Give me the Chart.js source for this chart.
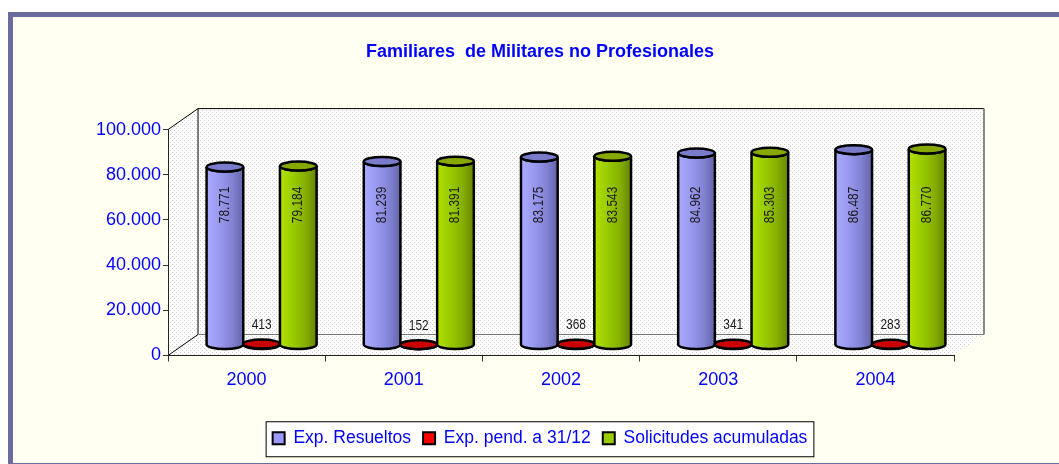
<!DOCTYPE html>
<html>
<head>
<meta charset="utf-8">
<script src="https://cdn.jsdelivr.net/npm/chart.js@4.4.1/dist/chart.umd.min.js"></script>
<style>
  html, body { margin: 0; padding: 0; overflow: hidden; background: #fff; }
  canvas { display: block; }
</style>
</head>
<body>
<canvas id="militaresChart" width="1080" height="464"></canvas>
<script>
var years = ['2000', '2001', '2002', '2003', '2004'];
var resueltos = [78771, 81239, 83175, 84962, 86487];
var pendientes = [413, 152, 368, 341, 283];
var acumuladas = [79184, 81391, 83543, 85303, 86770];
var yTicks = [0, 20000, 40000, 60000, 80000, 100000];

var FONT = 'Liberation Sans, Arial, sans-serif';
var depthX = 30, depthY = -21;   // 3D offset of the back wall
var midX = 15, midY = -10.5;     // cylinders sit half way back

// body gradient stops + top colour for each series
var shades = [
  { stops: ['#aaaaff', '#9999f0', '#8282d4', '#6464a8'], top: '#7b7bcc' },
  { stops: ['#e00000', '#cc0000', '#b00000', '#900000'], top: '#cc0000' },
  { stops: ['#b2e000', '#99cc00', '#86ae00', '#658600'], top: '#86a800' }
];

function fmt(v) {
  return Number(v).toLocaleString('de-DE');
}

function dotPattern(ctx, dot) {
  var c = document.createElement('canvas');
  c.width = 4; c.height = 4;
  var g = c.getContext('2d');
  g.fillStyle = '#ffffff';
  g.fillRect(0, 0, 4, 4);
  g.fillStyle = dot;
  g.fillRect(0, 0, 1, 1);
  g.fillRect(2, 2, 1, 1);
  return ctx.createPattern(c, 'repeat');
}

function poly(ctx, pts) {
  ctx.beginPath();
  ctx.moveTo(pts[0][0], pts[0][1]);
  for (var i = 1; i < pts.length; i++) ctx.lineTo(pts[i][0], pts[i][1]);
  ctx.closePath();
}

function line(ctx, x1, y1, x2, y2, color, w) {
  ctx.beginPath();
  ctx.strokeStyle = color;
  ctx.lineWidth = w;
  ctx.moveTo(x1, y1);
  ctx.lineTo(x2, y2);
  ctx.stroke();
}

function drawCylinder(ctx, bar, shade) {
  var p = bar.getProps(['x', 'y', 'base', 'width'], true);
  var cx = p.x + midX, top = p.y + midY, bottom = p.base + midY;
  var rx = p.width / 2, ry = 4.5;
  var grad = ctx.createLinearGradient(cx - rx, 0, cx + rx, 0);
  grad.addColorStop(0, shade.stops[0]);
  grad.addColorStop(0.35, shade.stops[1]);
  grad.addColorStop(0.7, shade.stops[2]);
  grad.addColorStop(1, shade.stops[3]);

  ctx.beginPath();
  ctx.moveTo(cx - rx, top);
  ctx.lineTo(cx - rx, bottom);
  ctx.ellipse(cx, bottom, rx, ry, 0, Math.PI, 0, true);
  ctx.lineTo(cx + rx, top);
  ctx.ellipse(cx, top, rx, ry, 0, 0, Math.PI, false);
  ctx.closePath();
  ctx.fillStyle = grad;
  ctx.fill();
  ctx.strokeStyle = '#000';
  ctx.lineWidth = 2.5;
  ctx.stroke();

  ctx.beginPath();
  ctx.ellipse(cx, top, rx, ry, 0, 0, Math.PI * 2);
  ctx.fillStyle = shade.top;
  ctx.fill();
  ctx.stroke();
}

var scene3d = {
  id: 'scene3d',
  beforeDraw: function (chart) {
    var ctx = chart.ctx, xs = chart.scales.x, ys = chart.scales.y;
    ctx.save();
    // outer frame
    ctx.fillStyle = '#ffffff';
    ctx.fillRect(0, 0, chart.width, chart.height);
    ctx.fillStyle = '#6b6b9d';
    ctx.fillRect(8, 12, chart.width - 16, chart.height);
    ctx.fillStyle = '#fffff2';
    ctx.fillRect(13, 17, chart.width - 26, 446);

    // walls and floor
    var L = xs.left, R = xs.right;
    var B = ys.getPixelForValue(ys.min), T = ys.getPixelForValue(ys.max);
    var pat = dotPattern(ctx, '#d0d0d0');
    ctx.fillStyle = pat;
    ctx.fillRect(L + depthX, T + depthY, R - L, B - T);
    poly(ctx, [[L, T], [L + depthX, T + depthY], [L + depthX, B + depthY], [L, B]]);
    ctx.fill();
    poly(ctx, [[L, B], [R, B], [R + depthX, B + depthY], [L + depthX, B + depthY]]);
    ctx.fill();

    line(ctx, L, T, L + depthX, T + depthY, '#000', 1);
    line(ctx, L + depthX, T + depthY, R + depthX, T + depthY, '#000', 1);
    line(ctx, L + depthX, T + depthY, L + depthX, B + depthY, '#000', 1);
    line(ctx, R + depthX, T + depthY, R + depthX, B + depthY, '#8a8a8a', 2);
    line(ctx, L + depthX, B + depthY, R + depthX, B + depthY, '#777', 1);
    line(ctx, L, B, L + depthX, B + depthY, '#000', 1);

    // legend frame
    var hb = chart.legend.legendHitBoxes;
    if (hb && hb.length) {
      var first = hb[0], last = hb[hb.length - 1];
      var fx = first.left - 7, fy = first.top + first.height / 2 - 17;
      var fw = last.left + last.width + 6 - fx;
      ctx.fillStyle = '#ffffff';
      ctx.fillRect(fx, fy, fw, 35);
      ctx.strokeStyle = '#000';
      ctx.lineWidth = 1;
      ctx.strokeRect(fx + 0.5, fy + 0.5, fw, 35);
    }
    ctx.restore();
  },
  beforeDatasetsDraw: function (chart) {
    var ctx = chart.ctx;
    ctx.save();
    for (var j = 0; j < years.length; j++) {
      chart.data.datasets.forEach(function (ds, i) {
        drawCylinder(ctx, chart.getDatasetMeta(i).data[j], shades[i]);
      });
    }
    ctx.restore();
    return false;
  },
  afterDraw: function (chart) {
    var ctx = chart.ctx, ys = chart.scales.y;
    ctx.save();
    ctx.fillStyle = '#1a1a1a';
    ctx.font = '14px ' + FONT;
    ctx.textAlign = 'center';
    ctx.textBaseline = 'middle';
    chart.data.datasets.forEach(function (ds, i) {
      chart.getDatasetMeta(i).data.forEach(function (bar, j) {
        var p = bar.getProps(['x', 'y'], true);
        var cx = p.x + midX;
        ctx.save();
        if (i === 1) {
          ctx.translate(cx, p.y + midY - 19);
          ctx.scale(0.85, 1);
        } else {
          ctx.translate(cx, ys.getPixelForValue(62000) + midY);
          ctx.rotate(-Math.PI / 2);
          ctx.scale(0.85, 1);
        }
        ctx.fillText(fmt(ds.data[j]), 0, 0);
        ctx.restore();
      });
    });
    ctx.restore();
  }
};

var ctx = document.getElementById('militaresChart');
new Chart(ctx, {
  type: 'bar',
  data: {
    labels: years,
    datasets: [{
      label: 'Exp. Resueltos',
      data: resueltos,
      backgroundColor: '#9999ff',
      borderColor: '#000',
      borderWidth: 2
    }, {
      label: 'Exp. pend. a 31/12',
      data: pendientes,
      backgroundColor: '#ff0000',
      borderColor: '#000',
      borderWidth: 2
    }, {
      label: 'Solicitudes acumuladas',
      data: acumuladas,
      backgroundColor: '#99cc00',
      borderColor: '#000',
      borderWidth: 2
    }]
  },
  options: {
    responsive: false,
    animation: false,
    devicePixelRatio: 1,
    categoryPercentage: 0.7,
    barPercentage: 1,
    layout: { padding: { top: 0, left: 0, right: 0, bottom: 7 } },
    plugins: {
      tooltip: { enabled: false },
      title: {
        display: true,
        text: 'Familiares  de Militares no Profesionales',
        color: '#0000ff',
        font: { family: FONT, size: 18, weight: 'bold' },
        padding: { top: 41, bottom: 67 }
      },
      legend: {
        position: 'bottom',
        labels: {
          color: '#0000ff',
          font: { family: FONT, size: 17.5 },
          boxWidth: 12,
          boxHeight: 12,
          padding: 12
        }
      }
    },
    scales: {
      x: {
        grid: { drawOnChartArea: false, offset: true, tickLength: 6, tickColor: '#333' },
        border: { color: '#222' },
        ticks: { color: '#0000ff', font: { family: FONT, size: 18 }, padding: 8 },
        afterFit: function (s) { s.height = 62; }
      },
      y: {
        min: yTicks[0],
        max: yTicks[yTicks.length - 1],
        afterBuildTicks: function (s) { s.ticks = yTicks.map(function (v) { return { value: v }; }); },
        grid: { drawOnChartArea: false, tickLength: 5, tickColor: '#333' },
        border: { color: '#222' },
        ticks: { color: '#0000ff', font: { family: FONT, size: 18 }, padding: 2, callback: fmt },
        afterFit: function (s) { s.width = 168; }
      },
      pad: {
        type: 'linear',
        position: 'right',
        grid: { display: false },
        ticks: { display: false },
        border: { display: false },
        afterFit: function (s) { s.width = 126; }
      }
    }
  },
  plugins: [scene3d]
});
</script>
</body>
</html>
